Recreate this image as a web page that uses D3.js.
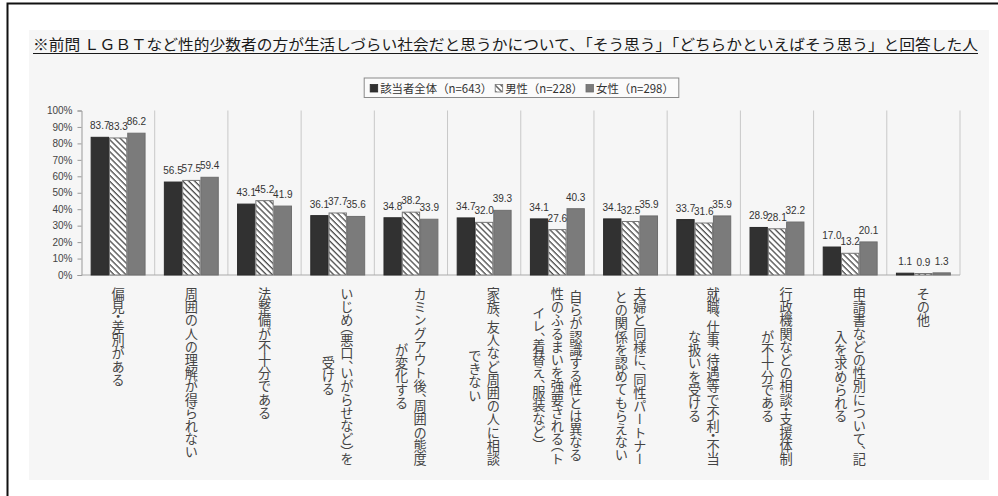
<!DOCTYPE html>
<html>
<head>
<meta charset="utf-8">
<script src="https://cdn.jsdelivr.net/npm/d3@7"></script>
<style>
  html, body { margin: 0; padding: 0; background: #ffffff; }
  svg { display: block; }
  .jp { font-family: "Noto Sans CJK JP", "Noto Sans CJK SC", sans-serif; }
  .num { font-family: "Liberation Sans", Arial, sans-serif; }
  .half { font-feature-settings: "vhal" 1; }
</style>
</head>
<body>
<svg id="chart" width="998" height="496"></svg>
<script>
// Survey items (line breaks mark where each vertical label wraps)
const categories = [
  "偏見・差別がある",
  "周囲の人の理解が得られない",
  "法整備が不十分である",
  "いじめ（悪口、いがらせなど）を\n受ける",
  "カミングアウト後、周囲の態度\nが変化する",
  "家族、友人など周囲の人に相談\nできない",
  "自らが認識する性とは異なる\n性のふるまいを強要される（ト\nイレ、着替え、服装など）",
  "夫婦と同様に、同性パートナー\nとの関係を認めてもらえない",
  "就職、仕事、待遇等で不利・不当\nな扱いを受ける",
  "行政機関などの相談・支援体制\nが不十分である",
  "申請書などの性別について、記\n入を求められる",
  "その他"
];

const seriesNames = ["該当者全体（n=643）", "男性（n=228）", "女性（n=298）"];

// Percentages per series, in category order
const allValues    = [83.7, 56.5, 43.1, 36.1, 34.8, 34.7, 34.1, 34.1, 33.7, 28.9, 17.0, 1.1];
const maleValues   = [83.3, 57.5, 45.2, 37.7, 38.2, 32.0, 27.6, 32.5, 31.6, 28.1, 13.2, 0.9];
const femaleValues = [86.2, 59.4, 41.9, 35.6, 33.9, 39.3, 40.3, 35.9, 35.9, 32.2, 20.1, 1.3];

const yTicks = [0, 10, 20, 30, 40, 50, 60, 70, 80, 90, 100];

const titleText = "※前問 ＬＧＢＴなど性的少数者の方が生活しづらい社会だと思うかについて、「そう思う」「どちらかといえばそう思う」と回答した人";

const seriesValues = [allValues, maleValues, femaleValues];

const svg = d3.select("#chart");
const W = 998, H = 496;

// hatch pattern for the male series
const defs = svg.append("defs");
defs.append("pattern")
  .attr("id", "hatch")
  .attr("patternUnits", "userSpaceOnUse")
  .attr("width", 4.2).attr("height", 4.2)
  .attr("patternTransform", "rotate(-45)")
  .call(p => {
    p.append("rect").attr("width", 4.2).attr("height", 4.2).attr("fill", "#ffffff");
    p.append("line").attr("x1", 1).attr("y1", 0).attr("x2", 1).attr("y2", 4.2)
      .attr("stroke", "#3a3a3a").attr("stroke-width", 1.2);
  });

const fills = ["#313131", "url(#hatch)", "#7b7b7b"];
const strokes = ["#2a2a2a", "#777777", "#6e6e6e"];

// outer frame (top and left edges)
svg.append("path")
  .attr("d", `M7.5,${H} L7.5,3.5 L${W},3.5`)
  .attr("fill", "none").attr("stroke", "#111").attr("stroke-width", 2);

// light panel
svg.append("rect")
  .attr("x", 29).attr("y", 30).attr("width", 960).attr("height", 450)
  .attr("fill", "#f6f6f6");

// title, underlined
svg.append("text")
  .attr("class", "jp")
  .attr("x", 33).attr("y", 50)
  .attr("font-size", 15)
  .attr("fill", "#1a1a1a")
  .attr("textLength", 945)
  .attr("lengthAdjust", "spacingAndGlyphs")
  .text(titleText);
svg.append("line")
  .attr("x1", 33).attr("x2", 978).attr("y1", 53.5).attr("y2", 53.5)
  .attr("stroke", "#1a1a1a").attr("stroke-width", 1.2);

// scales
const x0 = d3.scaleBand().domain(d3.range(categories.length)).range([81.5, 960]).padding(0);
const x1 = d3.scaleBand().domain(d3.range(seriesValues.length))
  .range([x0.bandwidth() * 0.125, x0.bandwidth() * 0.875]).padding(0);
const y = d3.scaleLinear().domain([0, 100]).range([275, 110.5]);

// category separators
const g = svg.append("g");
g.selectAll("line.sep")
  .data(d3.range(1, categories.length + 1))
  .join("line")
  .attr("class", "sep")
  .attr("x1", i => x0(i - 1) + x0.bandwidth()).attr("x2", i => x0(i - 1) + x0.bandwidth())
  .attr("y1", y(100)).attr("y2", y(0))
  .attr("stroke", "#c8c8c8").attr("stroke-width", 1);

// y axis
const yAxis = g.append("g")
  .attr("transform", `translate(${x0.range()[0]},0)`)
  .call(d3.axisLeft(y).tickValues(yTicks).tickSize(4).tickPadding(5).tickFormat(d => d + "%"));
yAxis.select(".domain").attr("stroke", "#999");
yAxis.selectAll(".tick line").attr("stroke", "#999");
yAxis.selectAll(".tick text")
  .attr("class", "num").attr("font-size", 10).attr("fill", "#444");

// baseline
g.append("line")
  .attr("x1", x0.range()[0]).attr("x2", x0.range()[1])
  .attr("y1", y(0)).attr("y2", y(0))
  .attr("stroke", "#aaa").attr("stroke-width", 1);

// bars
const groups = g.selectAll("g.cat")
  .data(categories.map((c, i) => i))
  .join("g")
  .attr("class", "cat")
  .attr("transform", i => `translate(${x0(i)},0)`);

groups.selectAll("rect")
  .data(i => seriesValues.map((vals, s) => ({ s, v: vals[i] })))
  .join("rect")
  .attr("x", d => x1(d.s) + 0.5)
  .attr("width", x1.bandwidth() - 1)
  .attr("y", d => y(d.v))
  .attr("height", d => y(0) - y(d.v))
  .attr("fill", d => fills[d.s])
  .attr("stroke", d => strokes[d.s])
  .attr("stroke-width", 1);

// value labels
groups.selectAll("text.val")
  .data(i => seriesValues.map((vals, s) => ({ s, v: vals[i] })))
  .join("text")
  .attr("class", "val num")
  .attr("x", d => x1(d.s) + x1.bandwidth() / 2)
  .attr("y", d => y(d.v) - 8)
  .attr("text-anchor", "middle")
  .attr("font-size", 10)
  .attr("fill", "#333")
  .text(d => d3.format(".1f")(d.v));

// vertical category labels: columns right-to-left, centred on the longest one
const labelTop = 287;
const fontPx = 13.2;
const colGap = 18.5;
const punct = /[、・（）。]/;
groups.each(function (i) {
  const lines = categories[i].split("\n");
  const cx = x0.bandwidth() / 2;
  const n = lines.length;
  const texts = d3.select(this).selectAll("text.lab")
    .data(lines)
    .join("text")
    .attr("class", "lab jp")
    .attr("x", (l, k) => cx + ((n - 1) / 2 - k) * colGap)
    .attr("y", labelTop)
    .attr("text-anchor", "start")
    .attr("font-size", fontPx)
    .attr("fill", "#444")
    .style("writing-mode", "vertical-rl");
  texts.each(function (l) {
    const t = d3.select(this);
    Array.from(l).forEach(ch => {
      const sp = t.append("tspan").text(ch);
      if (punct.test(ch)) sp.attr("class", "half");
    });
  });
  const lens = [];
  texts.each(function () { lens.push(this.getComputedTextLength()); });
  const maxLen = d3.max(lens);
  texts.attr("y", (l, k) => labelTop + (maxLen - lens[k]) / 2);
});

// legend
const legend = svg.append("g");
const legendBox = legend.append("rect")
  .attr("fill", "#fbfbfb").attr("stroke", "#8a8a8a").attr("stroke-width", 1);
let lx = 0;
seriesNames.forEach((name, s) => {
  const it = legend.append("g").attr("transform", `translate(${lx},0)`);
  it.append("rect")
    .attr("x", 0).attr("y", -8).attr("width", 7.5).attr("height", 7.5)
    .attr("fill", fills[s]).attr("stroke", strokes[s]).attr("stroke-width", 0.8);
  const t = it.append("text")
    .attr("class", "jp")
    .attr("x", 10).attr("y", 0)
    .attr("font-size", 11.4)
    .attr("fill", "#333")
    .text(name);
  lx += 10 + t.node().getComputedTextLength() + 3;
});
const legendW = lx + 8;
const legendLeft = 521.5 - legendW / 2;
legend.attr("transform", `translate(${legendLeft + 6},92.5)`);
legendBox.attr("x", -6).attr("y", -14.5).attr("width", legendW).attr("height", 19.5);
</script>
</body>
</html>
